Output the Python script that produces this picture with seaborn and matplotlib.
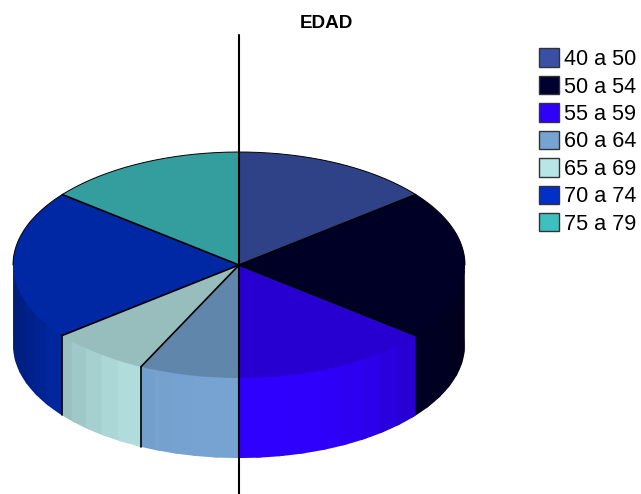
import numpy as np
import matplotlib
matplotlib.use("Agg")
import matplotlib.pyplot as plt
from matplotlib.patches import Patch
import seaborn as sns

# Age bands and their counts
age_bands = ["40 a 50", "50 a 54", "55 a 59", "60 a 64", "65 a 69", "70 a 74", "75 a 79"]
counts = [2, 3, 2, 1, 1, 3, 2]
band_colors = ["#3A50A5", "#00002F", "#3000FF", "#76A3D1", "#B8E6E6", "#0030C8", "#3FC0C0"]
title_text = "EDAD"

sns.set_theme(style="white")
plt.rcParams["font.family"] = ["Liberation Sans", "DejaVu Sans"]
palette = sns.color_palette(band_colors)

W, H = 641, 494
CX, CY, RX, RY, DEPTH = 239, 265, 226, 113, 80
TOP_SHADE = 0.82
BAND_STEP = 6.0
STRIP_OVERLAP = 1.5
UNDERLAP = 0.9

fig = plt.figure(figsize=(W / 100, H / 100), dpi=100, facecolor="white")
ax = fig.add_axes([0, 0, 1, 1])

# Slice boundaries, clockwise from twelve o'clock
shares = np.array(counts, dtype=float) / sum(counts)
edges = 90.0 - 360.0 * np.concatenate([[0.0], np.cumsum(shares)])
drop = DEPTH / RY

# Cylinder wall: shaded strips on the part of each slice that faces the viewer.
# Strips overlap their neighbours and tuck under the top face so no seams show.
for i, color in enumerate(palette):
    hi, lo = edges[i], edges[i + 1]
    n = max(1, int(np.ceil((hi - lo) / BAND_STEP)))
    steps = np.linspace(lo, hi, n + 1)
    for a, b in zip(steps[:-1], steps[1:]):
        mid = np.radians((a + b) / 2)
        if np.sin(mid) > 0.02:
            continue
        shade = 1.0 - 0.4 * abs(np.cos(mid)) ** 3
        t = np.radians(np.linspace(a - STRIP_OVERLAP, b, 8))
        rev = t[::-1]
        xs = np.concatenate([np.cos(t), [np.cos(t[-1])], UNDERLAP * np.cos(rev), [np.cos(t[0])]])
        ys = np.concatenate([np.sin(t) - drop, [np.sin(t[-1])], UNDERLAP * np.sin(rev), [np.sin(t[0])]])
        ax.fill(xs, ys, color=tuple(c * shade for c in color), lw=0, zorder=1)

# Top face
wedges, _ = ax.pie(
    counts,
    colors=[tuple(c * TOP_SHADE for c in col) for col in palette],
    startangle=90,
    counterclock=False,
    radius=1.0,
    wedgeprops={"linewidth": 0, "zorder": 2},
)

# Slice divisions across the top, and down the wall where it is visible
for angle in edges[:-1]:
    t = np.radians(angle)
    ax.plot([0, np.cos(t)], [0, np.sin(t)], color="black", lw=1.2, zorder=3)
    if np.sin(t) < -0.01 and np.cos(t) < -0.01:
        ax.plot([np.cos(t)] * 2, [np.sin(t), np.sin(t) - drop], color="black", lw=1.2, zorder=3)

# Thin outline along the far rim
t = np.radians(np.linspace(0, 180, 200))
ax.plot(np.cos(t), np.sin(t), color="black", lw=0.7, zorder=3)

ax.set_aspect("auto")
ax.set_xlim(-CX / RX, (W - CX) / RX)
ax.set_ylim((CY - H) / RY, CY / RY)
ax.axis("off")

# Vertical spindle through the pie centre
ax.axvline(0, ymin=0, ymax=(H - 35) / H, color="black", lw=1.5, zorder=4)

ax.text(326.5 / W, 1 - 23 / H, title_text, transform=ax.transAxes, ha="center", va="center",
        fontsize=13.6, fontweight="bold", color="black")

handles = [Patch(facecolor=c, edgecolor="#333333", linewidth=1.0, label=l)
           for c, l in zip(palette, age_bands)]
ax.legend(handles=handles, loc="upper left", bbox_to_anchor=(532.5 / W, 1 - 42 / H),
          bbox_transform=ax.transAxes, frameon=False, fontsize=15.6, ncol=1,
          handlelength=0.92, handleheight=0.92, handletextpad=0.24,
          labelspacing=0.27, borderpad=0.3, borderaxespad=0, labelcolor="black")

fig.savefig("out.png", dpi=100, facecolor="white")
